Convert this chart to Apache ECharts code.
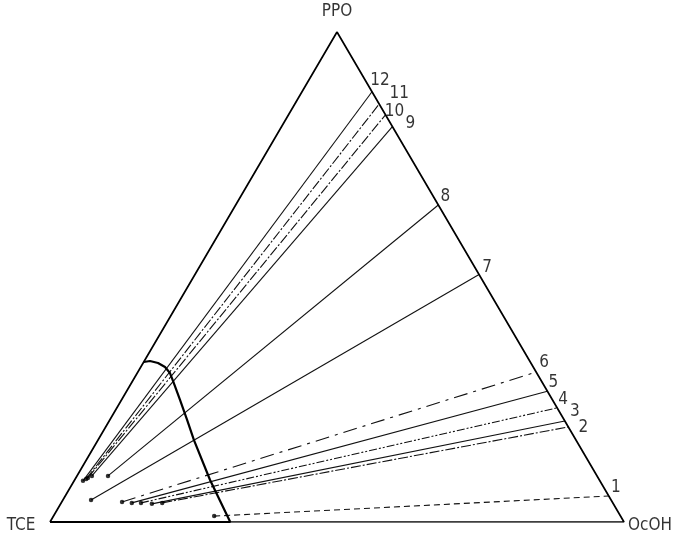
<!DOCTYPE html>
<html><head><meta charset="utf-8">
<script src="https://cdn.jsdelivr.net/npm/echarts@6/dist/echarts.min.js"></script>
<style>html,body{margin:0;padding:0;background:#fff}#c{width:681px;height:533px}</style>
</head><body><div id="c"></div>
<script>
// Vertex names
const vertexTop = 'PPO', vertexLeft = 'TCE', vertexRight = 'OcOH';
// Tie lines (mass fractions): PPO and OcOH content of each end
const tieLabels = ['1','2','3','4','5','6','7','8','9','10','11','12'];
const tieRightPPO = [0.053,0.194,0.206,0.233,0.267,0.306,0.505,0.647,0.807,0.831,0.853,0.878]; // TCE = 0
const tieLeftPPO  = [0.012,0.039,0.037,0.039,0.039,0.041,0.045,0.094,0.094,0.090,0.088,0.084];
const tieLeftOcOH = [0.280,0.176,0.159,0.139,0.123,0.105,0.049,0.054,0.026,0.021,0.019,0.0155];
// Binodal curve
const binodalPPO  = [0.3265,0.3286,0.3245,0.3163,0.304,0.2878,0.249,0.208,0.167,0.0857,0];
const binodalOcOH = [0,0.0099,0.0259,0.0422,0.057,0.0704,0.102,0.135,0.1673,0.236,0.314];

// styles (not data)
const tieDash = [[6,4],[10,2,2,2],'solid',[8,2,2,2,2,2],'solid',[14,6,3,6],'solid','solid','solid',[10,2,2,2],[10,2,2,2],'solid'];
const labelOffsets = [[7,-8],[15,1],[10,-9],[6,-8],[6,-9],[8,-9],[8,-7],[7,-8],[18,-3],[9,-3],[20,-10],[8,-11]];
const FONT = '"DejaVu Sans Condensed","Liberation Sans Narrow",sans-serif';

function xy(p, o){ return [o + p/2, p]; }

const series = [];
// triangle
series.push({type:'line', data:[xy(0,0), xy(0,1), xy(1,0), xy(0,0)], symbol:'none',
  lineStyle:{color:'#000', width:1.7}, z:3, silent:true});
// binodal
const bin = binodalPPO.map((p,i)=>xy(p, binodalOcOH[i]));
series.push({type:'line', data: bin.concat([xy(0,0)]), symbol:'none',
  lineStyle:{color:'#000', width:2.2}, z:4, silent:true});
// tie lines
tieLabels.forEach((lab,i)=>{
  series.push({type:'line', data:[xy(tieLeftPPO[i], tieLeftOcOH[i]), xy(tieRightPPO[i], 1 - tieRightPPO[i])],
    symbol:'none', lineStyle:{color:'#111', width:1.1, type:tieDash[i]}, z:2, silent:true});
});
// left end dots
series.push({type:'scatter', data: tieLabels.map((l,i)=>xy(tieLeftPPO[i], tieLeftOcOH[i])),
  symbol:'circle', symbolSize:4.5, itemStyle:{color:'#000'}, z:5, silent:true});
// labels at right ends
series.push({type:'scatter', symbolSize:0,
  data: tieLabels.map((l,i)=>({value: xy(tieRightPPO[i], 1 - tieRightPPO[i]), name:l,
    label:{show:true, position:'inside', offset:labelOffsets[i], formatter:l, align:'center', verticalAlign:'middle',
      color:'#000', fontSize:17, fontFamily:FONT}})), z:6, silent:true});
// vertex labels
series.push({type:'scatter', symbolSize:0, z:6, silent:true,
  data:[
    {value:xy(1,0), label:{show:true, position:'inside', offset:[0,-20], formatter:vertexTop}},
    {value:xy(0,0), label:{show:true, position:'inside', offset:[-29,4], formatter:vertexLeft}},
    {value:xy(0,1), label:{show:true, position:'inside', offset:[26,4], formatter:vertexRight}}
  ],
  label:{color:'#000', fontSize:17, fontFamily:FONT, align:'center', verticalAlign:'middle'}});

const chart = echarts.init(document.getElementById('c'), null, {renderer:'canvas'});
chart.setOption({
  animation:false,
  grid:{left:50, right:57, top:32, bottom:11},
  xAxis:{type:'value', min:0, max:1, show:false},
  yAxis:{type:'value', min:0, max:1, show:false},
  series
});
</script></body></html>
